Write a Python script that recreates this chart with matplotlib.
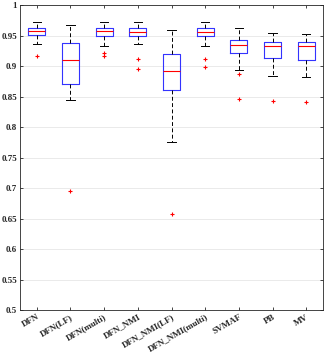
import matplotlib
matplotlib.use('Agg')
import matplotlib.pyplot as plt

# ── data ──
labels = ['DFN', 'DFN(LF)', 'DFN(multi)', 'DFN_NMI', 'DFN_NMI(LF)',
          'DFN_NMI(multi)', 'SVMAF', 'PB', 'MV']
whislo = [0.936, 0.845, 0.934, 0.937, 0.775, 0.9335, 0.8935, 0.884, 0.883]
q1     = [0.9515, 0.8715, 0.950, 0.950, 0.861, 0.949, 0.921, 0.913, 0.911]
med    = [0.958, 0.910, 0.9575, 0.956, 0.892, 0.9565, 0.935, 0.934, 0.933]
q3     = [0.962, 0.938, 0.962, 0.962, 0.920, 0.962, 0.943, 0.9405, 0.9395]
whishi = [0.972, 0.967, 0.972, 0.972, 0.959, 0.972, 0.962, 0.954, 0.953]
fliers = [[0.9175], [0.695], [0.921, 0.917], [0.9125, 0.895], [0.657],
          [0.9115, 0.899], [0.887, 0.846], [0.843], [0.841]]

stats = []
for i in range(len(labels)):
    stats.append(dict(label=labels[i], whislo=whislo[i], q1=q1[i], med=med[i],
                      q3=q3[i], whishi=whishi[i], fliers=fliers[i]))

plt.rcParams['font.family'] = 'Liberation Serif'
plt.rcParams['font.weight'] = 'bold'

fig = plt.figure(figsize=(3.27, 3.56), dpi=100)
ax = fig.add_axes([0.061, 0.129, 0.927, 0.856])

BLUE = '#3333ff'
ax.bxp(stats, widths=0.5, showfliers=True,
       boxprops=dict(color=BLUE, linewidth=0.8),
       medianprops=dict(color='red', linewidth=0.8),
       whiskerprops=dict(color='black', linestyle=(0, (4, 2.5)), linewidth=0.7),
       capprops=dict(color='black', linewidth=0.7),
       flierprops=dict(marker='+', markeredgecolor='red', markersize=3.5,
                       markeredgewidth=0.8, linestyle='none'))

ax.set_xlim(0.5, 9.5)
ax.set_ylim(0.5, 1.0)
ax.set_yticks([0.5, 0.55, 0.6, 0.65, 0.7, 0.75, 0.8, 0.85, 0.9, 0.95, 1.0])
ax.set_yticklabels(['0.5', '0.55', '0.6', '0.65', '0.7', '0.75', '0.8',
                    '0.85', '0.9', '0.95', '1'])
ax.set_xticks(range(1, 10))
ax.set_xticklabels(labels, rotation=30, ha='right', rotation_mode='anchor')
ax.tick_params(direction='in', length=2.5, width=0.6, labelsize=6.5,
               top=True, right=True, colors='#262626', pad=2)
ax.yaxis.grid(True, color='#e6e6e6', linewidth=0.6)
ax.set_axisbelow(True)
for s in ax.spines.values():
    s.set_color('#262626')
    s.set_linewidth(0.6)

plt.savefig('out.png', dpi=100)
